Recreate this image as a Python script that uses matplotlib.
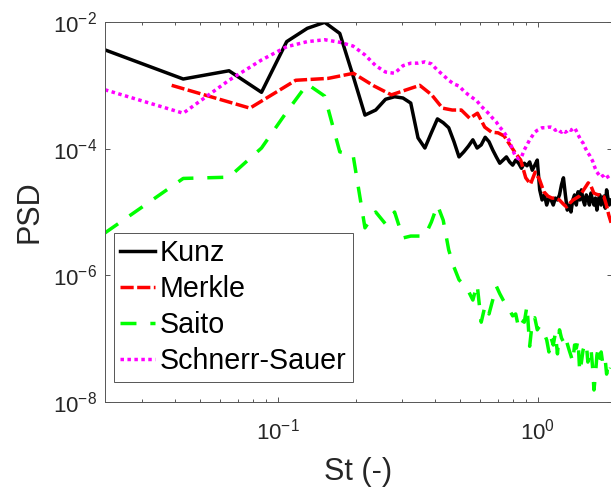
import numpy as np
import matplotlib
matplotlib.use('Agg')
import matplotlib.pyplot as plt
from matplotlib.ticker import FixedLocator, FixedFormatter, NullLocator

# ---------------- data ----------------
df_fine = 0.0216            # frequency resolution of Kunz / Saito / Schnerr-Sauer
df_merkle = 0.039           # frequency resolution of Merkle
st_fine = df_fine * np.arange(1, 89)
st_merkle = df_merkle * np.arange(1, 50)

kunz_log10 = [-2.44, -2.90, -2.77, -3.11, -2.31, -2.10, -2.005, -2.18, -2.85, -3.47,
              -3.39, -3.22, -3.18, -3.20, -3.28, -3.83, -3.99, -3.75, -3.53, -3.59,
              -3.67, -3.89, -4.13, -4.05, -3.96, -3.86, -3.99, -3.94, -3.82, -3.89,
              -4.02, -4.13, -4.23, -4.18, -4.13, -4.21, -4.26, -4.18, -4.23, -4.31,
              -4.23, -4.27, -4.21, -4.34, -4.26, -4.18, -4.65, -4.81, -4.73, -4.89,
              -4.78, -4.81, -4.89, -4.78, -4.81, -4.73, -4.57, -4.46, -4.73, -4.97,
              -4.89, -5.00, -4.81, -4.73, -4.89, -4.68, -4.81, -4.65, -4.81, -4.89,
              -4.73, -4.78, -4.89, -4.70, -4.81, -4.89, -4.78, -4.97, -4.81, -4.73,
              -4.89, -4.81, -4.75, -4.94, -4.65, -4.78, -4.89, -4.81]

merkle_log10 = [-3.00, -3.36, -2.92, -2.89, -2.81, -3.01, -3.15, -3.07, -3.00, -3.15,
                -3.36, -3.39, -3.39, -3.52, -3.44, -3.66, -3.74, -3.75, -3.80, -3.94,
                -4.07, -4.18, -4.46, -4.56, -4.37, -4.49, -4.68, -4.75, -4.78, -4.78,
                -4.81, -4.87, -4.92, -4.86, -4.81, -4.78, -4.75, -4.68, -4.61, -4.54,
                -4.59, -4.70, -4.72, -4.73, -4.75, -4.76, -4.89, -5.05, -5.17]

saito_log10 = [-5.33, -4.47, -4.45, -3.99, -3.42, -2.98, -3.17, -4.05, -4.10, -5.25,
               -5.00, -5.19, -5.00, -5.41, -5.38, -5.38, -5.38, -5.16, -4.89, -5.13,
               -5.60, -5.87, -6.07, -6.15, -6.25, -6.39, -6.14, -6.74, -6.47, -6.61,
               -6.39, -6.17, -6.29, -6.39, -6.48, -6.55, -6.64, -6.61, -6.83, -6.71,
               -6.74, -6.48, -7.12, -6.74, -6.67, -6.86, -6.80, -6.86, -6.93, -7.02,
               -7.21, -6.99, -7.10, -6.91, -7.24, -6.86, -6.99, -7.05, -6.96, -7.08,
               -7.18, -7.27, -7.37, -7.10, -7.15, -7.02, -7.53, -7.37, -7.18, -7.10,
               -7.07, -7.37, -7.27, -7.15, -7.43, -7.81, -7.57, -7.26, -7.15, -7.31,
               -7.21, -7.37, -7.43, -7.34, -7.56, -7.43, -7.53, -7.46]

schnerr_log10 = [-3.07, -3.44, -2.92, -2.60, -2.39, -2.31, -2.28, -2.32, -2.38, -2.52,
                 -2.69, -2.79, -2.81, -2.69, -2.65, -2.65, -2.63, -2.66, -2.76, -2.84,
                 -2.92, -2.98, -3.01, -3.09, -3.15, -3.20, -3.25, -3.33, -3.39, -3.45,
                 -3.52, -3.58, -3.66, -3.72, -3.80, -3.88, -4.02, -4.13, -4.16, -4.13,
                 -4.02, -3.94, -3.86, -3.80, -3.74, -3.71, -3.69, -3.67, -3.67, -3.67,
                 -3.66, -3.66, -3.67, -3.71, -3.69, -3.72, -3.74, -3.71, -3.74, -3.72,
                 -3.69, -3.71, -3.69, -3.67, -3.72, -3.78, -3.83, -3.88, -3.91, -3.97,
                 -4.02, -4.07, -4.10, -4.15, -4.19, -4.26, -4.32, -4.37, -4.40, -4.43,
                 -4.45, -4.43, -4.42, -4.40, -4.42, -4.45, -4.48, -4.51]

labels = ['Kunz', 'Merkle', 'Saito', 'Schnerr-Sauer']
x_major = [0.1, 1.0]
x_major_labels = ['$10^{-1}$', '$10^{0}$']
y_major = [1e-8, 1e-6, 1e-4, 1e-2]
y_major_labels = ['$10^{-8}$', '$10^{-6}$', '$10^{-4}$', '$10^{-2}$']

# ---------------- style ----------------
plt.rcParams['font.family'] = ['Liberation Sans', 'DejaVu Sans']
plt.rcParams['mathtext.fontset'] = 'custom'
plt.rcParams['mathtext.rm'] = 'Liberation Sans'
plt.rcParams['mathtext.it'] = 'Liberation Sans:italic'
plt.rcParams['mathtext.bf'] = 'Liberation Sans:bold'
plt.rcParams['mathtext.default'] = 'regular'

W, H = 611, 488
fig = plt.figure(figsize=(W / 100, H / 100), dpi=100)
ax = fig.add_axes([105 / W, 1 - 402 / H, (612 - 105) / W, (402 - 22) / H])

lw = 2.5
ax.plot(st_fine, 10 ** np.array(kunz_log10), color='black', lw=lw,
        linestyle='-', label=labels[0])
ax.plot(st_merkle, 10 ** np.array(merkle_log10), color='#ff0000', lw=lw,
        linestyle=(0, (3.8, 1.0)), label=labels[1])
ax.plot(st_fine, 10 ** np.array(saito_log10), color='#00ff00', lw=lw,
        linestyle=(0, (4.6, 4.0)), label=labels[2])
ax.plot(st_fine, 10 ** np.array(schnerr_log10), color='#ff00ff', lw=lw,
        linestyle=(0, (1.0, 1.0)), label=labels[3])

ax.set_xscale('log')
ax.set_yscale('log')
ax.set_xlim(10 ** ((105 - 538) / 260), 10 ** ((612 - 538) / 260))
ax.set_ylim(1e-8, 1e-2)

ax.xaxis.set_major_locator(FixedLocator(x_major))
ax.xaxis.set_major_formatter(FixedFormatter(x_major_labels))
ax.xaxis.set_minor_locator(FixedLocator([0.03, 0.04, 0.05, 0.06, 0.07, 0.08, 0.09,
                                         0.2, 0.3, 0.4, 0.5, 0.6, 0.7, 0.8, 0.9]))
ax.yaxis.set_major_locator(FixedLocator(y_major))
ax.yaxis.set_major_formatter(FixedFormatter(y_major_labels))
ax.yaxis.set_minor_locator(NullLocator())

axcol = '#262626'
for s in ax.spines.values():
    s.set_color('#555555')
    s.set_linewidth(0.7)
ax.tick_params(which='both', direction='in', top=True, right=True,
               colors='#555555', labelcolor=axcol, width=0.7)
ax.tick_params(which='major', length=3.6, labelsize=16)
ax.tick_params(which='minor', length=2.4)
ax.tick_params(axis='x', which='major', pad=12)
ax.tick_params(axis='y', which='major', pad=5.5)

ax.set_xlabel('St (-)', fontsize=22, color=axcol)
ax.set_ylabel('PSD', fontsize=22, color=axcol)
ax.xaxis.set_label_coords(0.5, -0.145)
ax.yaxis.set_label_coords(-0.12, 0.5)

leg = ax.legend(loc='upper left', bbox_to_anchor=(0.0178, 0.4447),
                borderaxespad=0, fontsize=20.6, handlelength=1.22,
                handletextpad=0.16, borderpad=0.22, labelspacing=0.28,
                fancybox=False, framealpha=1, edgecolor='#555555')
leg.get_frame().set_linewidth(0.7)

fig.savefig('out.png', dpi=100)
